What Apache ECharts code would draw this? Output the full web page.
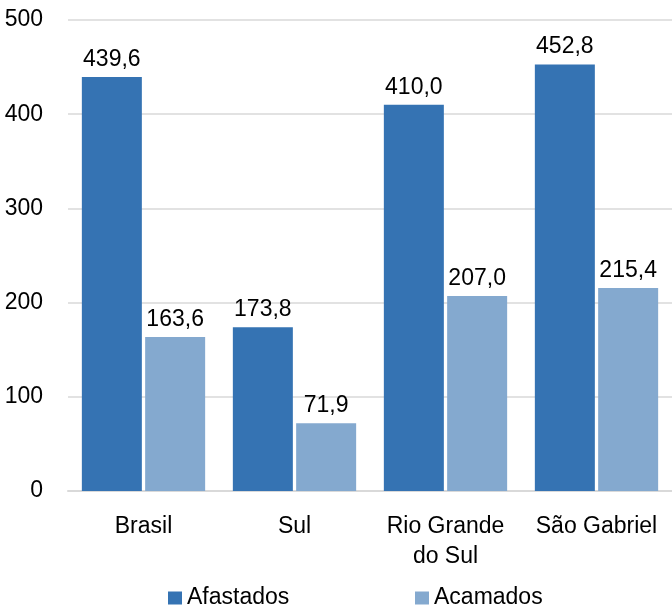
<!DOCTYPE html>
<html>
<head>
<meta charset="utf-8">
<script src="https://cdn.jsdelivr.net/npm/echarts@6/dist/echarts.min.js"></script>
<style>
html,body{margin:0;padding:0;background:#fff;}
#chart{width:672px;height:612px;}
</style>
</head>
<body>
<div id="chart"></div>
<script>
const categories = ['Brasil', 'Sul', 'Rio Grande\ndo Sul', 'São Gabriel'];
const afastados = [439.6, 173.8, 410.0, 452.8];
const acamados = [163.6, 71.9, 207.0, 215.4];
const yTicks = [0, 100, 200, 300, 400, 500];

const FONT = "'Liberation Sans Narrow', 'Arial Narrow', 'Liberation Sans', Arial, sans-serif";
const fmt = p => p.value.toFixed(1).replace('.', ',');

const chart = echarts.init(document.getElementById('chart'), null, {renderer: 'canvas'});
chart.setOption({
  animation: false,
  backgroundColor: '#ffffff',
  grid: {left: 68, top: 20, width: 608, height: 471, containLabel: false},
  legend: [
    {data: ['Afastados'], icon: 'rect', left: 168, top: 585, padding: 0, itemWidth: 14, itemHeight: 13, itemGap: 6,
     textStyle: {fontFamily: FONT, fontSize: 23, color: '#000', lineHeight: 26}},
    {data: ['Acamados'], icon: 'rect', left: 415, top: 585, padding: 0, itemWidth: 14, itemHeight: 13, itemGap: 6,
     textStyle: {fontFamily: FONT, fontSize: 23, color: '#000', lineHeight: 26}}
  ],
  xAxis: {
    type: 'category',
    data: categories,
    axisLine: {show: true, lineStyle: {color: '#d9d9d9', width: 2}},
    axisTick: {show: false},
    axisLabel: {fontFamily: FONT, fontSize: 23, color: '#000', margin: 21, lineHeight: 30, interval: 0}
  },
  yAxis: {
    type: 'value',
    min: yTicks[0],
    max: yTicks[yTicks.length - 1],
    interval: 100,
    axisLine: {show: false},
    axisTick: {show: false},
    splitLine: {show: true, lineStyle: {color: '#d9d9d9', width: 1.5}},
    axisLabel: {fontFamily: FONT, fontSize: 23, color: '#000', margin: 25}
  },
  series: [
    {name: 'Afastados', type: 'bar', data: afastados, barWidth: 60, barGap: '5.5%',
     itemStyle: {color: '#3573b3'},
     label: {show: true, position: 'top', distance: 6, formatter: fmt,
             fontFamily: FONT, fontSize: 23, color: '#000'}},
    {name: 'Acamados', type: 'bar', data: acamados, barWidth: 60,
     itemStyle: {color: '#84a9cf'},
     label: {show: true, position: 'top', distance: 6, formatter: fmt,
             fontFamily: FONT, fontSize: 23, color: '#000'}}
  ]
});
</script>
</body>
</html>
